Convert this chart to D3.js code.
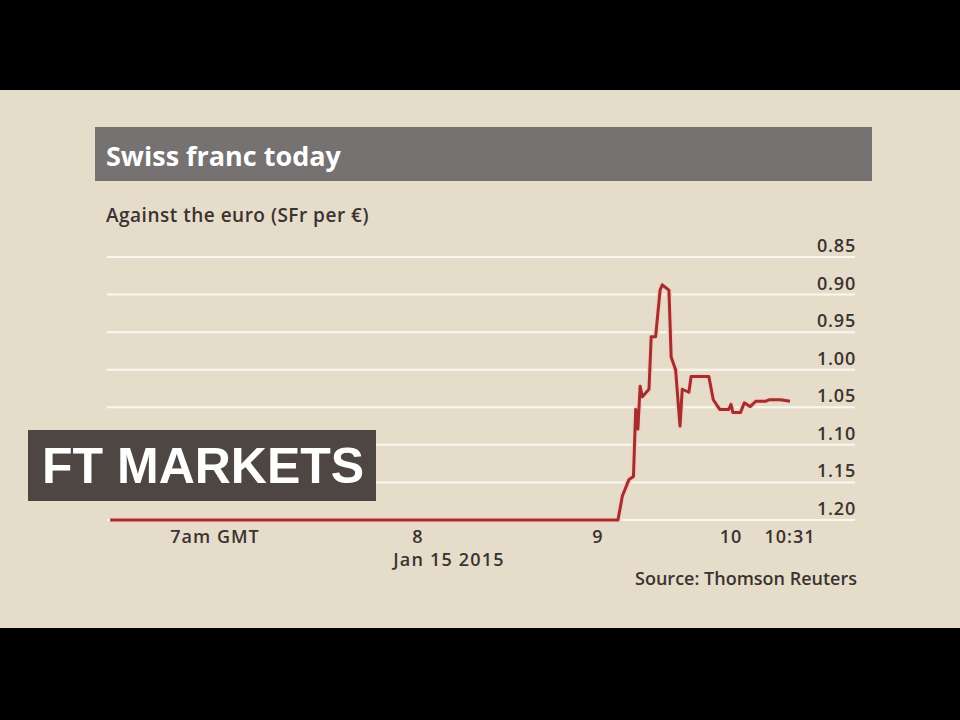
<!DOCTYPE html>
<html><head><meta charset="utf-8">
<script src="https://cdn.jsdelivr.net/npm/d3@7"></script>
<style>html,body{margin:0;padding:0;background:#000;}svg{display:block;}</style>
</head><body>
<svg id="c" width="960" height="720"></svg>
<script>
// Data: time (HH:MM GMT, Jan 15 2015) and SFr per euro
const times = ["06:29","09:09","09:11","09:14","09:16","09:17","09:18","09:19","09:20","09:23","09:24","09:26","09:28","09:29","09:32","09:33","09:35","09:37","09:38","09:41","09:42","09:50","09:52","09:55","09:59","10:00","10:01","10:05","10:07","10:10","10:13","10:18","10:20","10:26","10:31"];
const rates = [1.200,1.200,1.168,1.146,1.142,1.053,1.079,1.022,1.036,1.026,0.956,0.956,0.894,0.887,0.894,0.983,1.000,1.075,1.026,1.030,1.009,1.009,1.040,1.053,1.053,1.046,1.057,1.057,1.044,1.049,1.042,1.042,1.040,1.040,1.042];
const yTicks = [0.85,0.90,0.95,1.00,1.05,1.10,1.15,1.20];
const xTickTimes = ["07:00","08:00","09:00","10:00","10:31"];
const xTickLabels = ["7am GMT","8","9","10","10:31"];

const toMin = s => { const [h,m] = s.split(":").map(Number); return h*60+m; };
const data = times.map((t,i)=>({t:toMin(t), v:rates[i]}));

const svg = d3.select("#c");
const F = "'Open Sans', 'DejaVu Sans', sans-serif";
const INK = "#3a3330";
svg.append("rect").attr("x",0).attr("y",90).attr("width",960).attr("height",538).attr("fill","#e6dcca");

// title bar
svg.append("rect").attr("x",95).attr("y",127).attr("width",777).attr("height",54).attr("fill","#767271");
svg.append("text").attr("x",106).attr("y",166).attr("fill","#fff").attr("font-family",F).attr("font-weight",700).attr("font-size",27).text("Swiss franc today");
svg.append("text").attr("x",106).attr("y",222).attr("fill",INK).attr("font-family",F).attr("font-weight",600).attr("font-size",19).attr("letter-spacing",0.5).text("Against the euro (SFr per \u20AC)");

// scales
const y = d3.scaleLinear().domain([0.85,1.20]).range([257,520]);
const x = d3.scaleLinear().domain(xTickTimes.map(toMin)).range([215,418,598,731,790]);

// gridlines
svg.append("g").selectAll("line").data(yTicks).join("line")
  .attr("x1",107).attr("x2",855).attr("y1",d=>y(d)).attr("y2",d=>y(d))
  .attr("stroke","#fbf7f0").attr("stroke-width",2);
svg.append("g").selectAll("text").data(yTicks).join("text")
  .attr("x",856).attr("y",d=>y(d)-5).attr("text-anchor","end")
  .attr("fill",INK).attr("font-family",F).attr("font-weight",600).attr("font-size",18).attr("letter-spacing",0.8)
  .text(d=>d3.format(".2f")(d));

// x labels
svg.append("g").selectAll("text").data(xTickTimes).join("text")
  .attr("x",d=>x(toMin(d))).attr("y",543).attr("text-anchor","middle")
  .attr("fill",INK).attr("font-family",F).attr("font-weight",600).attr("font-size",18).attr("letter-spacing",1)
  .text((d,i)=>xTickLabels[i]);
svg.append("text").attr("x",449).attr("y",566).attr("text-anchor","middle")
  .attr("fill",INK).attr("font-family",F).attr("font-weight",600).attr("font-size",18).attr("letter-spacing",1.2).text("Jan 15 2015");
svg.append("text").attr("x",857).attr("y",585).attr("text-anchor","end")
  .attr("fill",INK).attr("font-family",F).attr("font-weight",600).attr("font-size",18).text("Source: Thomson Reuters");

// line
const line = d3.line().x(d=>x(d.t)).y(d=>y(d.v)).curve(d3.curveLinear);
svg.append("path").datum(data).attr("d",line).attr("fill","none")
  .attr("stroke","#f3cfc4").attr("stroke-width",6).attr("stroke-linejoin","round");
svg.append("path").datum(data).attr("d",line).attr("fill","none")
  .attr("stroke","#a32e2b").attr("stroke-width",3).attr("stroke-linejoin","round");

// FT MARKETS badge
svg.append("rect").attr("x",28).attr("y",430).attr("width",348).attr("height",71).attr("fill","#4e4642");
svg.append("text").attr("x",42).attr("y",483).attr("fill","#fff").attr("font-family","'Liberation Sans', Arial, sans-serif")
  .attr("font-weight",700).attr("font-size",50).text("FT MARKETS");
</script>
</body></html>
